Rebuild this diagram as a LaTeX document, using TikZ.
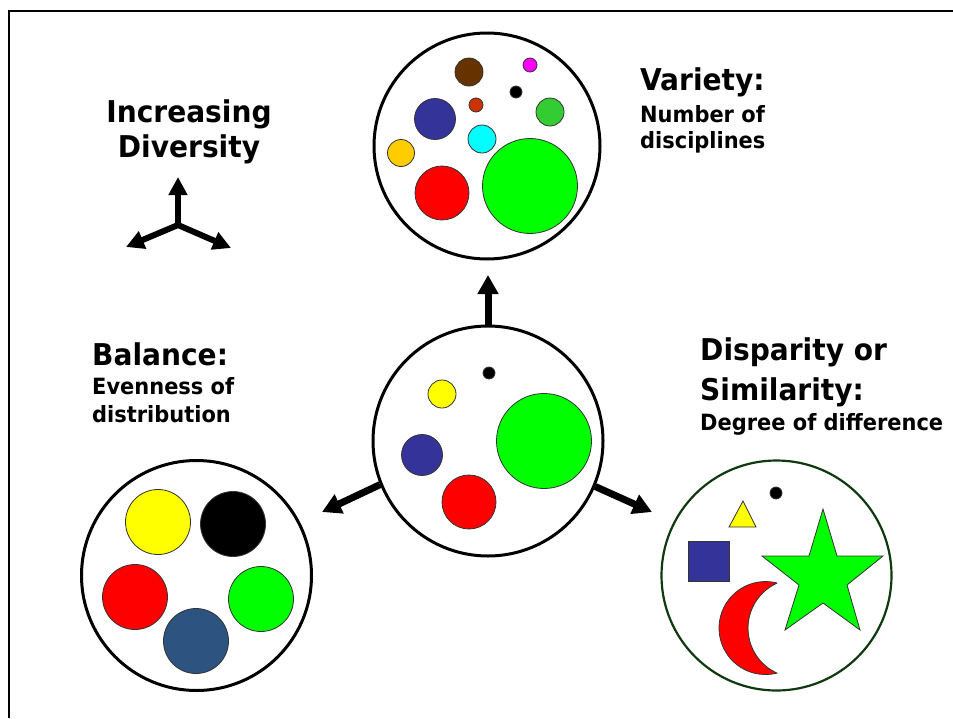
\documentclass[tikz,border=0pt]{standalone}
\usepackage{fontspec}
\newfontfamily\lab{DejaVu Sans Condensed Bold}[FakeStretch=1.04]
\usetikzlibrary{arrows.meta}
\definecolor{cbrown}{HTML}{663300}
\definecolor{cmag}{HTML}{FF00FF}
\definecolor{corr}{HTML}{CC3300}
\definecolor{cmgreen}{HTML}{33CC33}
\definecolor{cnavy}{HTML}{333399}
\definecolor{ccyan}{HTML}{00FFFF}
\definecolor{cgold}{HTML}{FFCC00}
\definecolor{cred}{HTML}{FF0000}
\definecolor{cgreen}{HTML}{00FF00}
\definecolor{cyellow}{HTML}{FFFF00}
\definecolor{csteel}{HTML}{2D5380}
\definecolor{cdkgreen}{HTML}{0F3A0F}
\definecolor{cedge}{HTML}{333333}
\tikzset{
  bigcirc/.style={circle,draw=black,line width=3pt,minimum size=230pt,inner sep=0pt,fill=white},
  dotc/.style={circle,draw=cedge,line width=0.8pt,inner sep=0pt,fill=#1},
  bigarrow/.style={line width=7pt,-{Triangle[width=20pt,length=19pt]}},
  smallarrow/.style={line width=6pt,-{Triangle[width=18pt,length=18pt]}},
  title/.style={font=\lab\fontsize{30}{35}\selectfont,inner sep=0pt},
  sub/.style={font=\lab\fontsize{22.4}{26}\selectfont,inner sep=0pt},
  shapeline/.style={draw=cedge,line width=0.8pt}
}
\begin{document}
\begin{tikzpicture}[x=1pt,y=-1pt]
\useasboundingbox (0,0) rectangle (953,718);
\fill[white] (0,0) rectangle (953,718);
% frame
\draw[line width=2pt] (953,11) -- (9,11) -- (9,718);

% Increasing diversity
\node[title,anchor=base] (inc1) at (189,122) {Increasing};
\node[title,anchor=base] (inc2) at (189,157) {Diversity};
\coordinate (ic) at (178,225);
\coordinate (icu) at (178,177);
\coordinate (icl) at (126,247);
\coordinate (icr) at (231,248);
\draw[smallarrow] (ic) -- (icu);
\draw[smallarrow] (ic) -- (icl);
\draw[smallarrow] (ic) -- (icr);

% Variety circle
\node[bigcirc,minimum size=226pt] (var) at (487,146) {};
\node[dotc=cbrown,minimum size=28pt] (v1) at (469,72) {};
\node[dotc=cmag,minimum size=14pt] (v2) at (530,65) {};
\node[dotc=black,minimum size=12pt] (v3) at (516,92) {};
\node[dotc=corr,minimum size=14pt] (v4) at (476,105) {};
\node[dotc=cmgreen,minimum size=28pt] (v5) at (550,112) {};
\node[dotc=cnavy,minimum size=41pt] (v6) at (435,119) {};
\node[dotc=ccyan,minimum size=28pt] (v7) at (482,139) {};
\node[dotc=cgold,minimum size=27pt] (v8) at (401,153) {};
\node[dotc=cred,minimum size=54pt] (v9) at (442,193) {};
\node[dotc=cgreen,minimum size=95pt] (v10) at (530,186) {};

\node[title,anchor=base west] (vt1) at (640,90) {Variety:};
\node[sub,anchor=base west] (vt2) at (640,122) {Number of};
\node[sub,anchor=base west] (vt3) at (640,148) {disciplines};

% centre circle
\node[bigcirc] (mid) at (488,441) {};
\node[dotc=black,minimum size=12pt] (m1) at (489,373) {};
\node[dotc=cyellow,minimum size=28pt] (m2) at (442,394) {};
\node[dotc=cnavy,minimum size=41pt] (m3) at (422,455) {};
\node[dotc=cgreen,minimum size=95pt] (m4) at (544,441) {};
\node[dotc=cred,minimum size=54pt] (m5) at (469,502) {};

\coordinate (vtip) at (488,275);
\coordinate (ltip) at (322,512);
\coordinate (rtip) at (652,512);
\draw[bigarrow] (mid.north) -- (vtip);
\draw[bigarrow] (mid.202.9) -- (ltip);
\draw[bigarrow] (mid.337.1) -- (rtip);

% Balance circle
\node[bigcirc] (bal) at (196.5,575.5) {};
\node[dotc=cyellow,minimum size=65pt] (b1) at (158,522) {};
\node[dotc=black,minimum size=65pt] (b2) at (233,524) {};
\node[dotc=cred,minimum size=65pt] (b3) at (135,597) {};
\node[dotc=cgreen,minimum size=65pt] (b4) at (261,599) {};
\node[dotc=csteel,minimum size=65pt] (b5) at (196,641) {};

\node[title,anchor=base west] (bt1) at (92,365) {Balance:};
\node[sub,anchor=base west] (bt2) at (92,394) {Evenness of};
\node[sub,anchor=base west] (bt3) at (92,422) {distribution};

% Disparity circle
\node[bigcirc,draw=cdkgreen,line width=2.2pt] (dis) at (776.5,575.5) {};
\node[dotc=black,minimum size=12pt] (d1) at (776,493) {};
\filldraw[shapeline,fill=cyellow] (743,501) -- (729,527) -- (756,527) -- cycle;
\filldraw[shapeline,fill=cnavy] (688,541) rectangle (729,581);
\filldraw[shapeline,fill=cgreen] (823,509) -- (837,556) -- (883,556) -- (847,585)
  -- (860,630) -- (823,603) -- (785,630) -- (799,585) -- (762,556) -- (809,556) -- cycle;
\filldraw[shapeline,fill=cred] (777,583) arc[start angle=-75.7,end angle=-284.3,radius=46.5]
  arc[start angle=114.4,end angle=245.6,radius=49.4] -- cycle;

\node[title,anchor=base west] (dt1) at (700,360) {Disparity or};
\node[title,anchor=base west] (dt2) at (700,400) {Similarity:};
\node[sub,anchor=base west] (dt3) at (700,430) {Degree of difference};
\end{tikzpicture}
\end{document}
